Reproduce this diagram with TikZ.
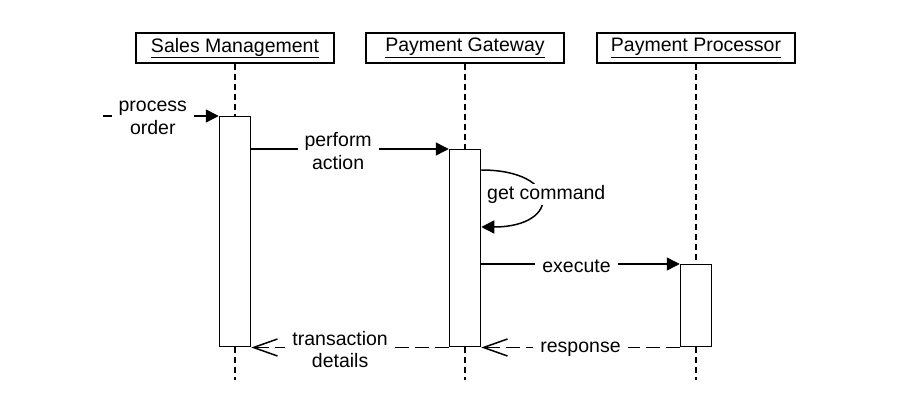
\documentclass[tikz,border=0pt]{standalone}
\usepackage{fontspec}
\setmainfont{Liberation Sans}
\usetikzlibrary{arrows.meta,positioning,calc}

\begin{document}
\begin{tikzpicture}[
    x=1pt, y=-1pt,
    font=\fontsize{19.5}{22.5}\selectfont,
    lane/.style={rectangle, draw, line width=1.5pt, minimum width=198pt, minimum height=30pt, inner sep=0pt},
    act/.style={rectangle, draw, fill=white, line width=1.5pt, minimum width=31pt, inner sep=0pt, anchor=north},
    life/.style={line width=1.5pt, dash pattern=on 6pt off 4pt},
    msg/.style={-{Triangle[length=13pt,width=13pt]}, line width=1.5pt},
    reply/.style={-{Straight Barb[length=24pt,width=17pt]}, line width=1.5pt, dash pattern=on 14pt off 6pt},
    lbl/.style={fill=white, align=center, inner xsep=7pt, inner ysep=1pt, yshift=-2pt}
]
    \useasboundingbox (0,0) rectangle (900,411);

    \node[lane] (sm) at (235,48) {\underline{Sales Management}};
    \node[lane] (gw) at (465,48) {\underline{Payment Gateway}};
    \node[lane] (pp) at (696,48) {\underline{Payment Processor}};

    \node[act, minimum height=230pt] (smact) at (235,116) {};
    \node[act, minimum height=197pt] (gwact) at (465,149) {};
    \node[act, minimum height=82pt] (ppact) at (696,264) {};

    \coordinate (smend) at (235,380);
    \coordinate (gwend) at (465,380);
    \coordinate (ppend) at (696,380);
    \coordinate (start) at (103,116);

    % lifelines
    \draw[life] (sm.south) -- (smact.north);
    \draw[life] (smact.south) -- (smend);
    \draw[life] (gw.south) -- (gwact.north);
    \draw[life] (gwact.south) -- (gwend);
    \draw[life] (pp.south) -- (ppact.north);
    \draw[life] (ppact.south) -- (ppend);

    % messages
    \draw[msg] (start) -- node[lbl, pos=0.43] {process\\order} (smact.north west);
    \draw[msg] (smact.east |- gwact.north) -- node[lbl, pos=0.44] {perform\\action} (gwact.north west);
    \draw[msg] ($(gwact.north east)+(0,21)$) .. controls +(80,0) and +(80,0) .. node[lbl, pos=0.5, xshift=5pt, yshift=6pt, inner xsep=1pt] {get command} ($(gwact.north east)+(0,78)$);
    \draw[msg] (gwact.east |- ppact.north) -- node[lbl, pos=0.48] {execute} (ppact.north west);
    \draw[reply] (ppact.south west) -- node[lbl] {response} (gwact.south east);
    \draw[reply] (gwact.south west) -- node[lbl, pos=0.55] {transaction\\details} (smact.south east);
\end{tikzpicture}
\end{document}
